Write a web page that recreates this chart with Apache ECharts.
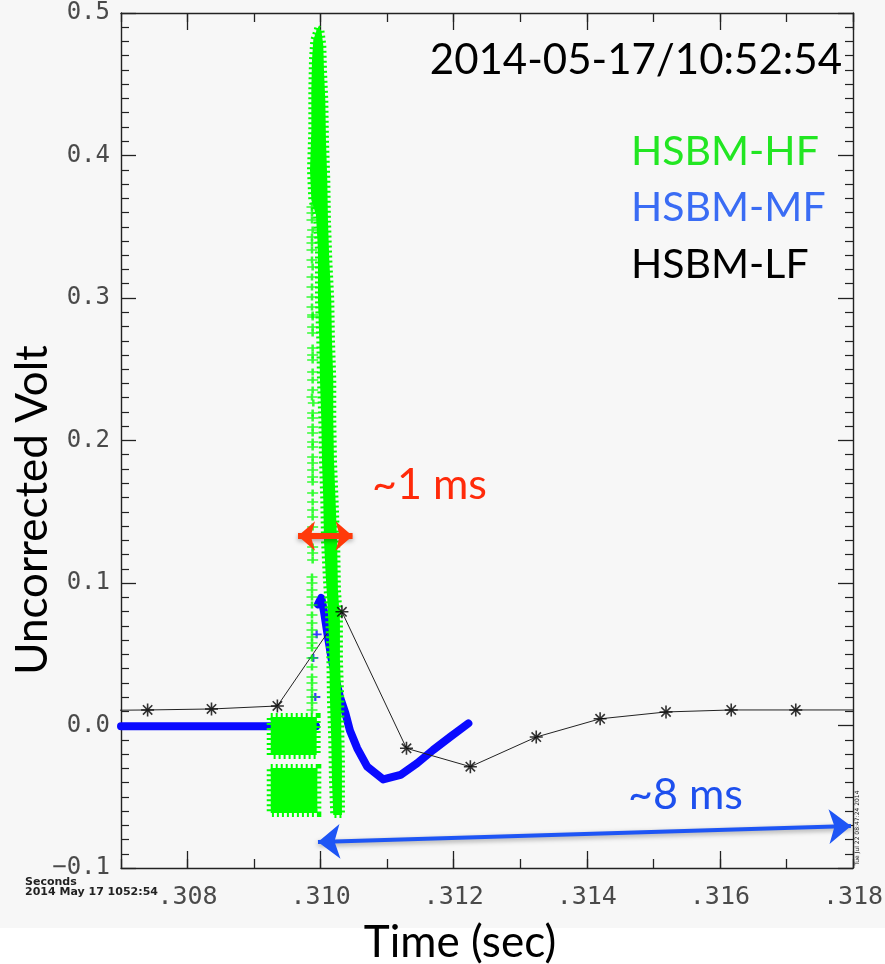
<!DOCTYPE html>
<html>
<head>
<meta charset="utf-8">
<script src="https://cdn.jsdelivr.net/npm/echarts@6/dist/echarts.min.js"></script>
<style>
  html, body { margin: 0; padding: 0; background: #ffffff; }
  #chart { width: 885px; height: 964px; }
</style>
</head>
<body>
<div id="chart"></div>
<script>
// ---- Axis ticks -------------------------------------------------------
const xMajorTicks = [0.308, 0.310, 0.312, 0.314, 0.316, 0.318];

// ---- HSBM-LF: asterisks joined by a thin line --------------------------
const lfTime = [0.30640, 0.30740, 0.30836, 0.30935, 0.31032, 0.31129, 0.31225,
                0.31324, 0.31420, 0.31519, 0.31617, 0.31714, 0.31812];
const lfVolt = [0.0105, 0.0109, 0.0116, 0.0137, 0.0798, -0.0160, -0.0289,
                -0.0081, 0.0047, 0.0095, 0.0109, 0.0109, 0.0109];

// ---- HSBM-MF: dense trace (null = no samples between baseline and peak)
const mfTime = [0.30700, 0.30750, 0.30800, 0.30850, 0.30900, 0.30993, 0.30994,
                0.30996, 0.31001, 0.31005, 0.31010, 0.31016, 0.31023, 0.31029,
                0.31037, 0.31044, 0.31055, 0.31070, 0.31094, 0.31120, 0.31145,
                0.31169, 0.31195, 0.31222];
const mfVolt = [-0.0005, -0.0005, -0.0005, -0.0005, -0.0005, -0.0005, null,
                0.0850, 0.0895, 0.0800, 0.0650, 0.0480, 0.0320, 0.0200,
                0.0090, -0.0035, -0.0160, -0.0289, -0.0378, -0.0347, -0.0265,
                -0.0172, -0.0079, 0.0015];
// isolated MF samples on the rising edge
const mfJumpTime = [0.30989, 0.30992, 0.30994];
const mfJumpVolt = [0.0474, 0.0200, 0.0640];

// ---- HSBM-HF -----------------------------------------------------------
// main burst: outline of the dense sample column (left edge top->bottom)
const hfBurstLeftTime  = [0.30995, 0.30989, 0.30987, 0.30986, 0.30986, 0.30984,
                          0.30986, 0.30993, 0.30996, 0.30996, 0.30998, 0.30999,
                          0.31001, 0.31002, 0.31004, 0.31005, 0.31008, 0.31011,
                          0.31013, 0.31014, 0.31016, 0.31017, 0.31019];
const hfBurstLeftVolt  = [0.4895, 0.4811, 0.4670, 0.4460, 0.4179, 0.3898,
                          0.3688, 0.3582, 0.3337, 0.2986, 0.2705, 0.2425,
                          0.2144, 0.1863, 0.1582, 0.1302, 0.1021, 0.0811,
                          0.0530, 0.0179, -0.0102, -0.0382, -0.0628];
// right edge, bottom->top
const hfBurstRightTime = [0.31032, 0.31032, 0.31032, 0.31031, 0.31031, 0.31029,
                          0.31029, 0.31026, 0.31025, 0.31023, 0.31020, 0.31019,
                          0.31019, 0.31017, 0.31016, 0.31013, 0.31011, 0.31010,
                          0.31008, 0.31007, 0.31005, 0.31004, 0.31001];
const hfBurstRightVolt = [-0.0628, -0.0453, -0.0242, -0.0032, 0.0179, 0.0460,
                          0.0740, 0.0951, 0.1232, 0.1512, 0.1863, 0.2144,
                          0.2425, 0.2705, 0.2986, 0.3267, 0.3547, 0.3828,
                          0.4109, 0.4389, 0.4600, 0.4775, 0.4881];
// two pre-burst bands: [start, end, upper volt, lower volt]
const hfBandStart = [0.30925, 0.30925];
const hfBandEnd   = [0.30994, 0.30995];
const hfBandHigh  = [0.0060, -0.0298];
const hfBandLow   = [-0.0207, -0.0614];
// sparse column of samples just ahead of the burst
const hfSparseTime = [0.30987, 0.30987, 0.30987, 0.30988, 0.30987, 0.30987, 0.30987,
                      0.30987, 0.30988, 0.30987, 0.30987, 0.30987, 0.30987, 0.30988,
                      0.30988, 0.30988, 0.30988, 0.30988, 0.30988, 0.30988, 0.30988,
                      0.30988, 0.30988, 0.30987, 0.30989, 0.30988, 0.30988, 0.30988,
                      0.30988, 0.30988, 0.30988, 0.30988, 0.30988, 0.30988, 0.30988,
                      0.30988, 0.30988, 0.30988, 0.30988, 0.30988, 0.30988, 0.30988,
                      0.30988, 0.30988, 0.30987, 0.30987, 0.30987, 0.30987, 0.30987,
                      0.30987, 0.30987, 0.30987, 0.30987, 0.30987, 0.30987, 0.30987,
                      0.30987, 0.30987, 0.30987, 0.30987, 0.30987, 0.30987, 0.30987];
const hfSparseVolt = [0.3639, 0.3596, 0.3547, 0.3477, 0.3428, 0.3386, 0.3337,
                      0.3267, 0.3218, 0.3147, 0.3077, 0.3007, 0.2937, 0.2881,
                      0.2867, 0.2796, 0.2754, 0.2649, 0.2600, 0.2565, 0.2481,
                      0.2425, 0.2354, 0.2305, 0.2263, 0.2193, 0.2158, 0.2095,
                      0.2053, 0.1989, 0.1954, 0.1884, 0.1842, 0.1793, 0.1744,
                      0.1709, 0.1632, 0.1568, 0.1512, 0.1463, 0.1393, 0.1253,
                      0.1211, 0.1161, 0.1042, 0.1000, 0.0951, 0.0902, 0.0846,
                      0.0775, 0.0719, 0.0670, 0.0621, 0.0579, 0.0544, 0.0474,
                      0.0411, 0.0340, 0.0298, 0.0249, 0.0200, 0.0158, 0.0109];

// ---- styling -----------------------------------------------------------
const GREEN = '#00ff00';
const BLUE = '#0a0aff';
const AXIS = '#222222';
const PLUS = 'path://M-5,0L5,0M0,-4L0,4';
const STAR = 'path://M-5,0L5,0M0,-5L0,5M-3.6,-3.6L3.6,3.6M-3.6,3.6L3.6,-3.6';
// ragged edge for the dense '+' clouds
const CLOUD_STYLE = { fill: GREEN, stroke: GREEN, lineWidth: 8, lineDash: [2, 3] };

const zip = (a, b) => a.map((t, i) => [t, b[i] === null ? '-' : b[i]]);

const burstOutline = zip(hfBurstLeftTime, hfBurstLeftVolt)
  .concat(zip(hfBurstRightTime, hfBurstRightVolt));

function xAxis(position, major) {
  const ax = {
    type: 'value', position: position, min: 0.307, max: 0.318,
    splitLine: { show: false },
    axisLine: { show: !major, onZero: false, lineStyle: { color: AXIS, width: 1.4 } },
    axisTick: { show: true, inside: true, length: major ? 17 : 9,
                lineStyle: { color: AXIS, width: 1.3 } },
    axisLabel: { show: false }
  };
  if (major) {
    ax.axisTick.customValues = xMajorTicks;
    if (position === 'bottom') {
      ax.axisLabel = {
        show: true, customValues: xMajorTicks, margin: 17,
        fontFamily: 'DejaVu Sans Mono', fontSize: 25, color: '#4a4a4a',
        formatter: v => '.' + Math.round(v * 1000)
      };
    }
  } else {
    ax.interval = 0.001;
  }
  return ax;
}

function yAxis(position, labels) {
  return {
    type: 'value', position: position, min: -0.1, max: 0.5, interval: 0.1,
    splitLine: { show: false },
    axisLine: { show: true, onZero: false, lineStyle: { color: AXIS, width: 1.4 } },
    axisTick: { show: true, inside: true, length: 15, lineStyle: { color: AXIS, width: 1.3 } },
    minorTick: { show: true, splitNumber: 10, length: 8, lineStyle: { color: AXIS, width: 1.2 } },
    axisLabel: {
      show: labels, margin: 11, showMinLabel: true, showMaxLabel: true,
      padding: [6, 0, 0, 0],
      fontFamily: 'DejaVu Sans Mono', fontSize: 24, color: '#4a4a4a',
      formatter: v => (v < -1e-9 ? '\u2212' : '') + Math.abs(v).toFixed(1)
    }
  };
}

const option = {
  animation: false,
  backgroundColor: '#f7f7f7',
  grid: { left: 121, right: 32, top: 13, bottom: 96, outerBoundsMode: 'none', containLabel: false },
  xAxis: [xAxis('bottom', false), xAxis('bottom', true), xAxis('top', false), xAxis('top', true)],
  yAxis: [yAxis('left', true), yAxis('right', false)],
  series: [
    { // MF dense trace
      type: 'line', xAxisIndex: 0, yAxisIndex: 0, z: 2, silent: true,
      data: zip(mfTime, mfVolt), showSymbol: false, connectNulls: false,
      lineStyle: { color: BLUE, width: 8, cap: 'round', join: 'round' }
    },
    { // MF isolated samples
      type: 'scatter', xAxisIndex: 0, yAxisIndex: 0, z: 2, silent: true,
      data: zip(mfJumpTime, mfJumpVolt), symbol: PLUS, symbolSize: [10, 8],
      itemStyle: { color: BLUE, borderColor: BLUE, borderWidth: 2 }
    },
    { // LF connecting line + annotation arrows
      type: 'line', xAxisIndex: 0, yAxisIndex: 0, z: 3, silent: true,
      data: zip(lfTime, lfVolt), showSymbol: false,
      lineStyle: { color: '#222', width: 1 },
      markLine: {
        z: 10, silent: true, symbol: ['arrow', 'arrow'],
        label: { show: false },
        data: [
          [ { coord: [0.30966, 0.1330], symbolSize: [22, 17],
              lineStyle: { color: '#ff3a0a', width: 6, type: 'solid',
                           shadowBlur: 5, shadowColor: 'rgba(0,0,0,0.35)', shadowOffsetY: 2 } },
            { coord: [0.31048, 0.1330], symbolSize: [22, 17] } ],
          [ { coord: [0.30996, -0.0818], symbolSize: [26, 22],
              lineStyle: { color: '#1e55f5', width: 4, type: 'solid',
                           shadowBlur: 5, shadowColor: 'rgba(0,0,0,0.35)', shadowOffsetY: 2 } },
            { coord: [0.31797, -0.0705], symbolSize: [26, 22] } ]
        ]
      }
    },
    { // HF pre-burst bands
      type: 'custom', xAxisIndex: 0, yAxisIndex: 0, z: 4, silent: true, clip: true,
      data: hfBandStart.map((s, i) => [s, hfBandEnd[i], hfBandHigh[i], hfBandLow[i]]),
      encode: { x: [0, 1], y: [2, 3] },
      renderItem: (params, api) => {
        const p0 = api.coord([api.value(0), api.value(2)]);
        const p1 = api.coord([api.value(1), api.value(3)]);
        return { type: 'rect', shape: { x: p0[0], y: p0[1], width: p1[0] - p0[0], height: p1[1] - p0[1] },
                 style: CLOUD_STYLE };
      }
    },
    { // HF main burst column
      type: 'custom', xAxisIndex: 0, yAxisIndex: 0, z: 4, silent: true, clip: true,
      data: [burstOutline[0]],
      renderItem: (params, api) => ({
        type: 'polygon',
        shape: { points: burstOutline.map(p => api.coord(p)) },
        style: { fill: GREEN, stroke: GREEN, lineWidth: 6, lineDash: [2, 3] }
      })
    },
    { // HF sparse samples
      type: 'scatter', xAxisIndex: 0, yAxisIndex: 0, z: 4, silent: true,
      data: zip(hfSparseTime, hfSparseVolt), symbol: PLUS, symbolSize: [11, 7],
      itemStyle: { color: GREEN, borderColor: GREEN, borderWidth: 2 }
    },
    { // LF asterisks
      type: 'scatter', xAxisIndex: 0, yAxisIndex: 0, z: 5, silent: true,
      data: zip(lfTime, lfVolt), symbol: STAR, symbolSize: 13,
      itemStyle: { color: '#000', borderColor: '#000', borderWidth: 1.6 }
    }
  ],
  graphic: [
    { type: 'rect', z: -10, silent: true, shape: { x: 0, y: 928, width: 885, height: 36 },
      style: { fill: '#ffffff' } },
    { type: 'text', x: 842, y: 60, silent: true,
      style: { text: '2014-05-17/10:52:54', font: '42px Lato', fill: '#000',
               textAlign: 'right', textVerticalAlign: 'middle', align: 'right', verticalAlign: 'middle' } },
    { type: 'text', x: 631, y: 152, silent: true,
      style: { text: 'HSBM-HF', font: '41px Lato', fill: '#22e622',
               textAlign: 'left', textVerticalAlign: 'middle', align: 'left', verticalAlign: 'middle' } },
    { type: 'text', x: 631, y: 208, silent: true,
      style: { text: 'HSBM-MF', font: '41px Lato', fill: '#3a6cf4',
               textAlign: 'left', textVerticalAlign: 'middle', align: 'left', verticalAlign: 'middle' } },
    { type: 'text', x: 631, y: 265, silent: true,
      style: { text: 'HSBM-LF', font: '41px Lato', fill: '#000',
               textAlign: 'left', textVerticalAlign: 'middle', align: 'left', verticalAlign: 'middle' } },
    { type: 'text', x: 372, y: 485, silent: true,
      style: { text: '~1 ms', font: '43px Lato', fill: '#ff2a0a',
               textAlign: 'left', textVerticalAlign: 'middle', align: 'left', verticalAlign: 'middle' } },
    { type: 'text', x: 628, y: 795, silent: true,
      style: { text: '~8 ms', font: '43px Lato', fill: '#1e50ee',
               textAlign: 'left', textVerticalAlign: 'middle', align: 'left', verticalAlign: 'middle' } },
    { type: 'text', x: 33, y: 510, rotation: Math.PI / 2, silent: true,
      style: { text: 'Uncorrected Volt', font: '44px Lato', fill: '#000',
               textAlign: 'center', textVerticalAlign: 'middle', align: 'center', verticalAlign: 'middle' } },
    { type: 'text', x: 460, y: 943, silent: true,
      style: { text: 'Time (sec)', font: '44px Lato', fill: '#000',
               textAlign: 'center', textVerticalAlign: 'middle', align: 'center', verticalAlign: 'middle' } },
    { type: 'text', x: 25, y: 882, silent: true,
      style: { text: 'Seconds', font: 'bold 11px "DejaVu Sans"', fill: '#222',
               textAlign: 'left', textVerticalAlign: 'middle', align: 'left', verticalAlign: 'middle' } },
    { type: 'text', x: 25, y: 892, silent: true,
      style: { text: '2014 May 17 1052:54', font: 'bold 11px "DejaVu Sans"', fill: '#222',
               textAlign: 'left', textVerticalAlign: 'middle', align: 'left', verticalAlign: 'middle' } },
    { type: 'text', x: 857, y: 828, rotation: Math.PI / 2, silent: true,
      style: { text: 'Tue Jul 22 08:47:24 2014', font: '6px "DejaVu Sans"', fill: '#222',
               textAlign: 'center', textVerticalAlign: 'middle', align: 'center', verticalAlign: 'middle' } }
  ]
};

const chart = echarts.init(document.getElementById('chart'), null, { renderer: 'canvas' });
chart.setOption(option);
</script>
</body>
</html>
